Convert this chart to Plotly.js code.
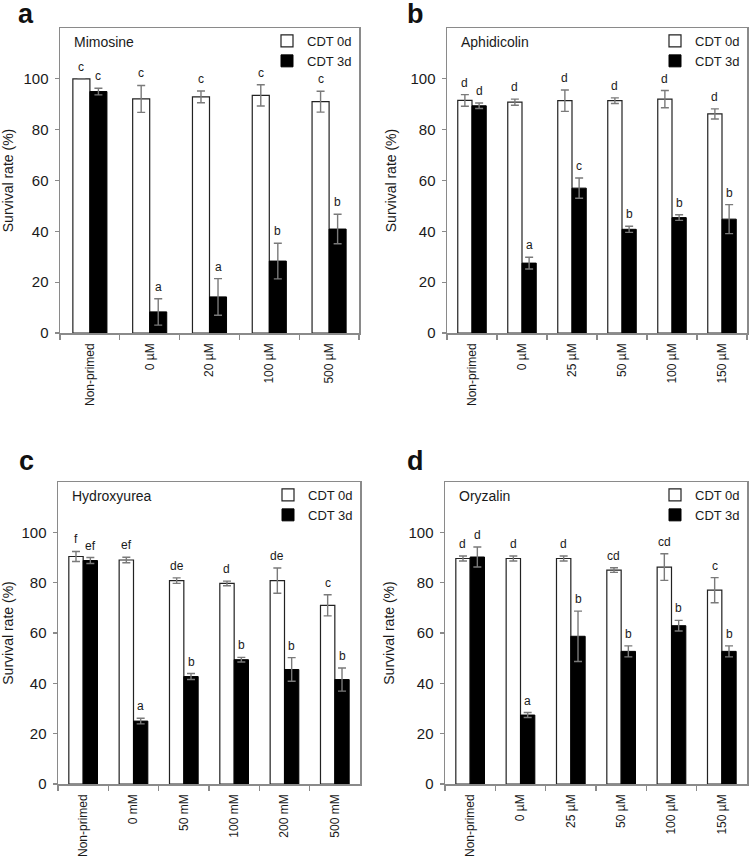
<!DOCTYPE html>
<html>
<head>
<meta charset="utf-8">
<script src="https://cdn.plot.ly/plotly-3.0.1.min.js"></script>
<style>
html,body{margin:0;padding:0;background:#fff;}
#chart{width:750px;height:865px;}
</style>
</head>
<body>
<div id="chart"></div>
<script>
// ---------------- DATA ----------------
const seriesNames = ['CDT 0d', 'CDT 3d'];

// Panel a: Mimosine
const catsA = ['Non-primed', '0 µM', '20 µM', '100 µM', '500 µM'];
const a0d = [100, 92.1, 92.9, 93.5, 91.0];
const a0dErr = [null, 5.3, 2.3, 4.2, 4.1];
const a3d = [95.0, 8.3, 14.2, 28.3, 40.9];
const a3dErr = [1.3, 5.2, 7.2, 7.0, 5.8];
const a0dSig = ['c', 'c', 'c', 'c', 'c'];
const a3dSig = ['c', 'a', 'a', 'b', 'b'];

// Panel b: Aphidicolin
const catsB = ['Non-primed', '0 µM', '25 µM', '50 µM', '100 µM', '150 µM'];
const b0d = [91.5, 90.8, 91.4, 91.4, 92.0, 86.2];
const b0dErr = [2.3, 1.2, 4.2, 1.1, 3.4, 2.0];
const b3d = [89.4, 27.5, 57.0, 40.8, 45.4, 44.8];
const b3dErr = [1.1, 2.3, 4.0, 1.2, 1.1, 5.7];
const b0dSig = ['d', 'd', 'd', 'd', 'd', 'd'];
const b3dSig = ['d', 'a', 'c', 'b', 'b', 'b'];

// Panel c: Hydroxyurea
const catsC = ['Non-primed', '0 mM', '50 mM', '100 mM', '200 mM', '500 mM'];
const c0d = [90.4, 89.0, 80.8, 79.7, 80.8, 71.0];
const c0dErr = [2.0, 1.1, 1.1, 0.9, 5.0, 4.2];
const c3d = [88.8, 25.0, 42.7, 49.4, 45.5, 41.5];
const c3dErr = [1.2, 1.1, 1.2, 0.9, 4.7, 4.6];
const c0dSig = ['f', 'ef', 'de', 'd', 'de', 'c'];
const c3dSig = ['ef', 'a', 'b', 'b', 'b', 'b'];

// Panel d: Oryzalin
const catsD = ['Non-primed', '0 µM', '25 µM', '50 µM', '100 µM', '150 µM'];
const d0d = [89.6, 89.6, 89.6, 85.0, 86.2, 77.0];
const d0dErr = [1.0, 1.0, 1.0, 0.9, 5.3, 5.0];
const d3d = [90.2, 27.4, 58.7, 52.7, 62.9, 52.7];
const d3dErr = [4.0, 1.0, 10.0, 2.2, 2.1, 2.2];
const d0dSig = ['d', 'd', 'd', 'cd', 'cd', 'c'];
const d3dSig = ['d', 'a', 'b', 'b', 'b', 'b'];

const drugs = ['Mimosine', 'Aphidicolin', 'Hydroxyurea', 'Oryzalin'];
const panelLetters = ['a', 'b', 'c', 'd'];
const yTicks = [0, 20, 40, 60, 80, 100];
const yTitle = 'Survival rate (%)';

// ---------------- STYLE / LAYOUT ----------------
const W = 750, H = 865;
const FONT = 'Liberation Sans, Arial, sans-serif';
const TXT = '#1a1a1a';
const FRAME = '#8a8a8a';
const BARGAP = 0.43;
const halfOffset = (1 - BARGAP) / 4; // bar centre offset within a group

// pixel boxes of each plot [left, right, top, bottom]
const boxes = [
  [60, 359, 28, 333],
  [447, 747, 28, 333],
  [58, 360, 482, 784],
  [445, 747, 482, 784]
];
const labelPos = [[26, 14], [415, 14], [26, 461], [415, 461]];

const panels = [
  {cats: catsA, v0: a0d, e0: a0dErr, v3: a3d, e3: a3dErr, s0: a0dSig, s3: a3dSig},
  {cats: catsB, v0: b0d, e0: b0dErr, v3: b3d, e3: b3dErr, s0: b0dSig, s3: b3dSig},
  {cats: catsC, v0: c0d, e0: c0dErr, v3: c3d, e3: c3dErr, s0: c0dSig, s3: c3dSig},
  {cats: catsD, v0: d0d, e0: d0dErr, v3: d3d, e3: d3dErr, s0: d0dSig, s3: d3dSig}
];

const traces = [];
const annotations = [];
const layout = {
  width: W, height: H,
  margin: {l: 0, r: 0, t: 0, b: 0},
  paper_bgcolor: '#fff', plot_bgcolor: '#fff',
  barmode: 'group', bargap: BARGAP, bargroupgap: 0,
  font: {family: FONT, color: TXT},
  showlegend: true,
  annotations: annotations
};

panels.forEach((p, i) => {
  const n = i + 1;
  const xa = n === 1 ? 'x' : 'x' + n;
  const ya = n === 1 ? 'y' : 'y' + n;
  const lg = n === 1 ? 'legend' : 'legend' + n;
  const b = boxes[i];
  const xd = [b[0] / W, b[1] / W];
  const yd = [1 - b[3] / H, 1 - b[2] / H];

  const errStyle = {type: 'data', visible: true, color: '#7a7a7a', thickness: 1.4, width: 4};
  traces.push({
    type: 'bar', name: seriesNames[0], x: p.cats, y: p.v0,
    xaxis: xa, yaxis: ya, legend: lg,
    marker: {color: '#ffffff', line: {color: '#222', width: 1.2}},
    error_y: Object.assign({array: p.e0}, errStyle),
    hoverinfo: 'x+y'
  });
  traces.push({
    type: 'bar', name: seriesNames[1], x: p.cats, y: p.v3,
    xaxis: xa, yaxis: ya, legend: lg,
    marker: {color: '#000000', line: {color: '#000', width: 1}},
    error_y: Object.assign({array: p.e3}, errStyle),
    hoverinfo: 'x+y'
  });

  const xKey = n === 1 ? 'xaxis' : 'xaxis' + n;
  const yKey = n === 1 ? 'yaxis' : 'yaxis' + n;
  layout[xKey] = {
    domain: xd, anchor: ya, type: 'category',
    showline: true, mirror: true, linecolor: FRAME, linewidth: 1.5,
    ticks: 'outside', tickson: 'boundaries', ticklen: 5, tickcolor: FRAME, tickwidth: 1.2,
    tickangle: -90, ticklabelstandoff: 4,
    tickfont: {family: FONT, size: 12, color: TXT},
    showgrid: false, zeroline: false, fixedrange: true
  };
  layout[yKey] = {
    domain: yd, anchor: xa, range: [0, 120],
    tickvals: yTicks, ticktext: yTicks.map(String),
    showline: true, mirror: true, linecolor: FRAME, linewidth: 1.5,
    ticks: 'outside', ticklen: 4, tickcolor: FRAME, tickwidth: 1.2,
    tickfont: {family: FONT, size: 15, color: TXT},
    ticklabelstandoff: 3,
    showgrid: false, zeroline: false, fixedrange: true,
    title: {text: yTitle, font: {family: FONT, size: 14, color: TXT}, standoff: 10}
  };
  layout[lg] = {
    x: xd[1] - 2 / W, y: yd[1] + 2 / H, xanchor: 'right', yanchor: 'top',
    xref: 'paper', yref: 'paper',
    bgcolor: 'rgba(0,0,0,0)', borderwidth: 0,
    font: {family: FONT, size: 13, color: TXT},
    itemwidth: 30, tracegroupgap: 0, traceorder: 'normal'
  };

  // drug name
  annotations.push({
    xref: xa + ' domain', yref: ya + ' domain', x: 0.04, y: 0.955,
    xanchor: 'left', yanchor: 'middle', showarrow: false,
    text: drugs[i], font: {family: FONT, size: 14, color: TXT}
  });
  // panel letter
  annotations.push({
    xref: 'paper', yref: 'paper',
    x: labelPos[i][0] / W, y: 1 - labelPos[i][1] / H,
    xanchor: 'center', yanchor: 'middle', showarrow: false,
    text: '<b>' + panelLetters[i] + '</b>', font: {family: FONT, size: 27, color: '#111'}
  });
  // significance letters
  p.cats.forEach((c, k) => {
    annotations.push({
      xref: xa, yref: ya, x: k - halfOffset, y: p.v0[k] + (p.e0[k] || 0),
      xanchor: 'center', yanchor: 'bottom', yshift: 3, showarrow: false,
      text: p.s0[k], font: {family: FONT, size: 12, color: TXT}
    });
    annotations.push({
      xref: xa, yref: ya, x: k + halfOffset, y: p.v3[k] + (p.e3[k] || 0),
      xanchor: 'center', yanchor: 'bottom', yshift: 3, showarrow: false,
      text: p.s3[k], font: {family: FONT, size: 12, color: TXT}
    });
  });
});

Plotly.newPlot('chart', traces, layout, {staticPlot: true, displayModeBar: false});
</script>
</body>
</html>
